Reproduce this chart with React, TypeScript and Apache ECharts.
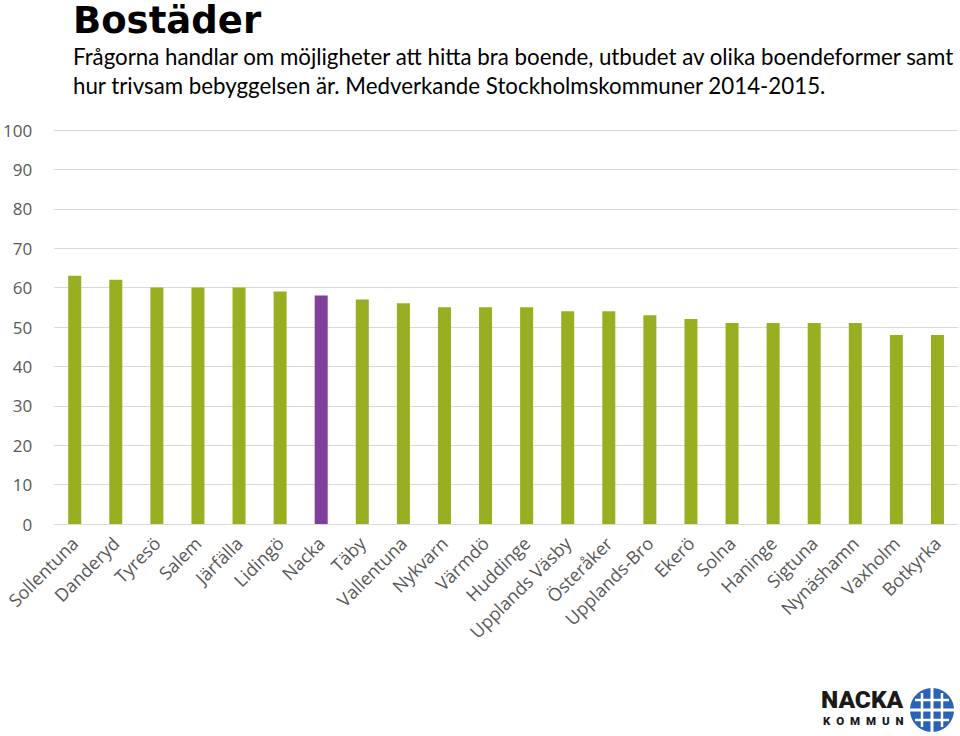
import React, { useEffect, useRef } from "react";
import * as echarts from "echarts";

const categories = [
  "Sollentuna", "Danderyd", "Tyresö", "Salem", "Järfälla", "Lidingö", "Nacka", "Täby",
  "Vallentuna", "Nykvarn", "Värmdö", "Huddinge", "Upplands Väsby", "Österåker",
  "Upplands-Bro", "Ekerö", "Solna", "Haninge", "Sigtuna", "Nynäshamn", "Vaxholm", "Botkyrka",
];
const values = [63, 62, 60, 60, 60, 59, 58, 57, 56, 55, 55, 55, 54, 54, 53, 52, 51, 51, 51, 51, 48, 48];
const highlight = "Nacka";
const titleText = "Bostäder";
const subtitleLines = [
  "Frågorna handlar om möjligheter att hitta bra boende, utbudet av olika boendeformer samt",
  "hur trivsam bebyggelsen är. Medverkande Stockholmskommuner 2014-2015.",
];
const logoTop = "NACKA";
const logoBottom = "K\u2002O\u2002M\u2002M\u2002U\u2002N";

const GREEN = "#9AAE22";
const PURPLE = "#7F3F9B";
const LOGO_BLUE = "#2A62B8";

export default function App() {
  const ref = useRef<HTMLDivElement>(null);
  useEffect(() => {
    if (!ref.current) return;
    const chart = echarts.init(ref.current, undefined, { renderer: "svg" });
    const cx = 932, cy = 710, r = 22;
    const white = { stroke: "#fff", lineWidth: 2.5 };
    chart.setOption({
      animation: false,
      backgroundColor: "#ffffff",
      grid: { left: 52, right: 2, top: 130, bottom: 212, containLabel: false },
      xAxis: {
        type: "category",
        data: categories,
        axisLine: { show: false },
        axisTick: { show: false },
        axisLabel: {
          interval: 0,
          rotate: 45,
          color: "#595959",
          fontFamily: "Open Sans",
          fontSize: 18,
          margin: 16,
        },
      },
      yAxis: {
        type: "value",
        min: 0,
        max: 100,
        interval: 10,
        axisLine: { show: false },
        axisTick: { show: false },
        splitLine: { lineStyle: { color: "#D9D9D9", width: 1 } },
        axisLabel: {
          color: "#595959",
          fontFamily: "Open Sans",
          fontSize: 17,
          margin: 22,
        },
      },
      series: [
        {
          type: "bar",
          barWidth: 13,
          data: values.map((v, i) => ({
            value: v,
            itemStyle: { color: categories[i] === highlight ? PURPLE : GREEN },
          })),
        },
      ],
      graphic: [
        {
          type: "text",
          left: 73,
          top: 2,
          style: {
            text: titleText,
            fontFamily: "DejaVu Sans",
            fontWeight: "bold",
            fontSize: 37,
            lineHeight: 36,
            fill: "#000",
          },
        },
        {
          type: "text",
          left: 73,
          top: 42,
          style: {
            text: subtitleLines.join("\n"),
            fontFamily: "Lato",
            fontSize: 22.3,
            lineHeight: 29,
            fill: "#000",
          },
        },
        {
          type: "text",
          left: 821,
          top: 687,
          style: {
            text: logoTop,
            fontFamily: "Roboto",
            fontWeight: 900,
            fontSize: 24.5,
            lineHeight: 23,
            fill: "#1a1a1a",
          },
        },
        {
          type: "text",
          left: 823,
          top: 715,
          style: {
            text: logoBottom,
            fontFamily: "Roboto",
            fontWeight: 900,
            fontSize: 11.5,
            lineHeight: 11,
            fill: "#1a1a1a",
          },
        },
        {
          type: "circle",
          shape: { cx, cy, r },
          style: { fill: LOGO_BLUE },
        },
        { type: "line", shape: { x1: cx - r, y1: cy, x2: cx + r, y2: cy }, style: { stroke: "#fff", lineWidth: 3 } },
        { type: "line", shape: { x1: cx, y1: cy - r, x2: cx, y2: cy + r }, style: { stroke: "#fff", lineWidth: 3 } },
        { type: "line", shape: { x1: cx - 17, y1: cy - 10, x2: cx + 17, y2: cy - 10 }, style: white },
        { type: "line", shape: { x1: cx - 17, y1: cy + 10, x2: cx + 17, y2: cy + 10 }, style: white },
        { type: "line", shape: { x1: cx - 10, y1: cy - 17, x2: cx - 10, y2: cy + 17 }, style: white },
        { type: "line", shape: { x1: cx + 10, y1: cy - 17, x2: cx + 10, y2: cy + 17 }, style: white },
      ],
    });
    return () => chart.dispose();
  }, []);
  return (
    <div
      ref={ref}
      style={{ position: "fixed", left: 0, top: 0, width: 960, height: 736 }}
    />
  );
}
